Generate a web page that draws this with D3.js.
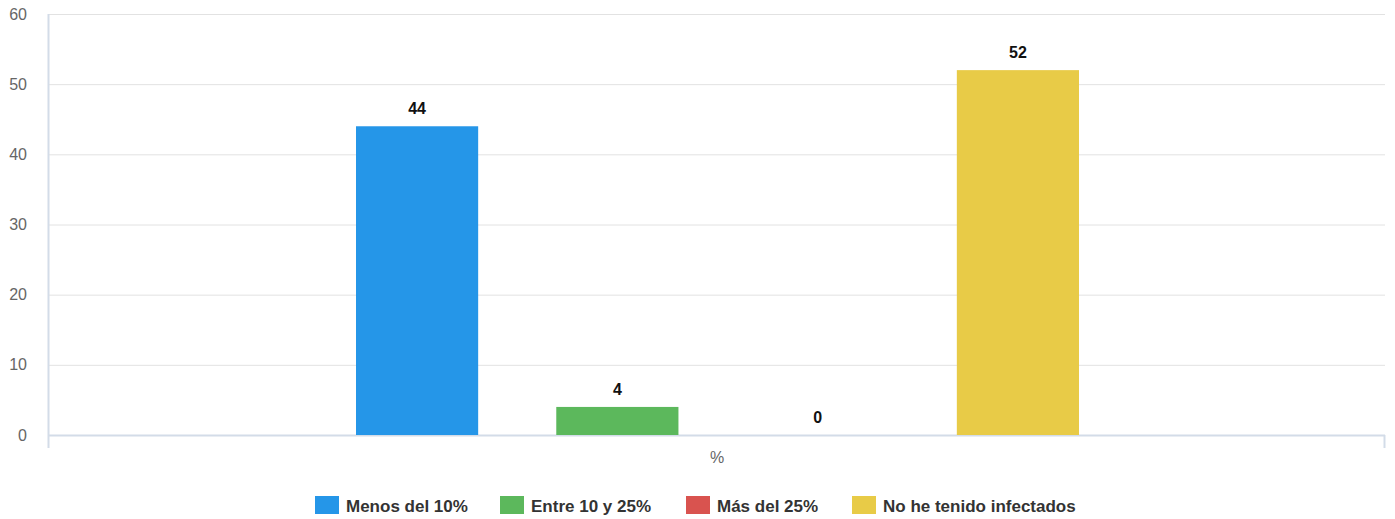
<!DOCTYPE html>
<html><head><meta charset="utf-8">
<script src="https://cdn.jsdelivr.net/npm/d3@7"></script>
<style>body{margin:0;background:#fff;font-family:"Liberation Sans",Arial,sans-serif;}</style>
</head><body><svg id="c" width="1395" height="519"></svg>
<script>
const categories = ["%"];
const seriesNames = ["Menos del 10%", "Entre 10 y 25%", "Más del 25%", "No he tenido infectados"];
const seriesValues = [44, 4, 0, 52];
const seriesColors = ["#2596e8", "#5cb85c", "#d9534f", "#e8cb47"];
const yTicks = [0, 10, 20, 30, 40, 50, 60];

const svg = d3.select("#c");
const m = {l: 48, r: 1385, t: 14, b: 435};
const y = d3.scaleLinear().domain([0, 60]).range([m.b, m.t]);
const x0 = d3.scaleBand().domain(categories).range([m.l, m.r]);
const x1 = d3.scaleBand().domain(seriesNames).range([x0("%") + 308, x0("%") + 1031]).paddingInner(0.39).paddingOuter(0);

// grid
svg.append("g").selectAll("line").data(yTicks.filter(d => d > 0)).join("line")
  .attr("x1", m.l).attr("x2", m.r).attr("y1", d => y(d) + 0.5).attr("y2", d => y(d) + 0.5)
  .attr("stroke", "#e2e2e2").attr("stroke-width", 1);
// y labels
svg.append("g").selectAll("text").data(yTicks).join("text")
  .attr("x", 27).attr("y", d => y(d) + 5.5).attr("text-anchor", "end")
  .attr("font-size", 16).attr("fill", "#666").text(d => d);
// axes lines
svg.append("line").attr("x1", m.l + 0.5).attr("x2", m.l + 0.5).attr("y1", m.t).attr("y2", 448).attr("stroke", "#d3dce8").attr("stroke-width", 2);
svg.append("line").attr("x1", m.r - 0.5).attr("x2", m.r - 0.5).attr("y1", m.b).attr("y2", 448).attr("stroke", "#d3dce8").attr("stroke-width", 2);
svg.append("line").attr("x1", m.l).attr("x2", m.r).attr("y1", m.b + 0.5).attr("y2", m.b + 0.5).attr("stroke", "#d3dce8").attr("stroke-width", 2);

// bars
const g = svg.append("g");
seriesNames.forEach((s, i) => {
  const v = seriesValues[i];
  g.append("rect").attr("x", x1(s)).attr("width", x1.bandwidth())
    .attr("y", y(v)).attr("height", y(0) - y(v)).attr("fill", seriesColors[i]);
  g.append("text").attr("x", x1(s) + x1.bandwidth() / 2).attr("y", y(v) - 12)
    .attr("text-anchor", "middle").attr("font-size", 16).attr("font-weight", "bold")
    .attr("fill", "#111").text(v);
});
// x label
svg.append("text").attr("x", x0("%") + x0.bandwidth() / 2 + 0.5).attr("y", 463).attr("text-anchor", "middle")
  .attr("font-size", 16).attr("fill", "#666").text(categories[0]);

// legend
const legX = [315, 500, 686, 852];
const lg = svg.append("g");
seriesNames.forEach((s, i) => {
  lg.append("rect").attr("x", legX[i]).attr("y", 496).attr("width", 24).attr("height", 18).attr("fill", seriesColors[i]);
  lg.append("text").attr("x", legX[i] + 31).attr("y", 512).attr("font-size", 17).attr("font-weight", "bold")
    .attr("fill", "#333").text(s);
});
</script></body></html>
